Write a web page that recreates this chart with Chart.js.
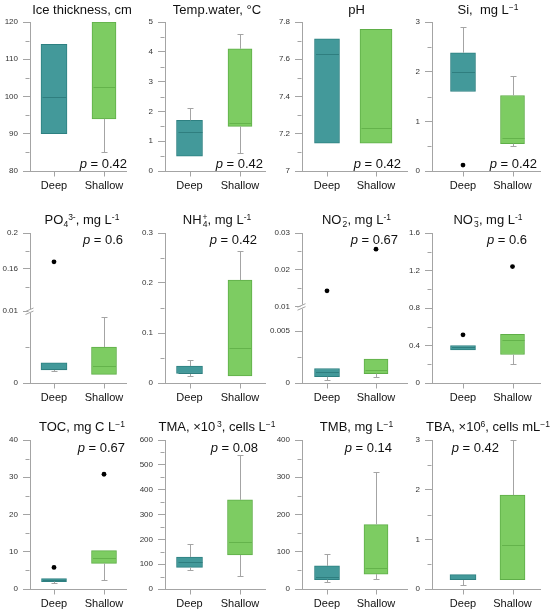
<!DOCTYPE html>
<html lang="en">
<head>
<meta charset="UTF-8">
<title>Deep vs Shallow</title>
<script src="https://cdn.jsdelivr.net/npm/chart.js"></script>
<style>
  html, body { margin: 0; padding: 0; background: #fff; }
  body { width: 550px; height: 613px; position: relative; overflow: hidden;
         font-family: "Liberation Sans", Arial, sans-serif; }
  .title { position: absolute; width: 180px; text-align: center; font-size: 13px;
           line-height: 14px; color: #111; white-space: nowrap; }
  .title sup { font-size: 8.5px; line-height: 0; vertical-align: 4px; }
  .title sub { font-size: 8.5px; line-height: 0; vertical-align: -3px; }
  .ss { display: inline-block; vertical-align: -3px; font-size: 8.5px; line-height: 7px; margin-left: 1px; }
  .ss > span { display: block; }
</style>
</head>
<body>
<script>
  // ---- data ----
  const groups = ['Deep', 'Shallow'];

  const titles = [
    'Ice thickness, cm',
    'Temp.water, °C',
    'pH',
    'Si,&nbsp; mg L<sup>−1</sup>',
    'PO<sub>4</sub><sup>3-</sup>, mg L<sup>-1</sup>',
    'NH<span class="ss"><span>+</span><span>4</span></span>, mg L<sup>-1</sup>',
    'NO<span class="ss"><span>−</span><span>2</span></span>, mg L<sup>-1</sup>',
    'NO<span class="ss"><span>−</span><span>3</span></span>, mg L<sup>-1</sup>',
    'TOC, mg C L<sup>−1</sup>',
    'TMA, ×10<sup>&thinsp;3</sup>, cells L<sup>−1</sup>',
    'TMB, mg L<sup>−1</sup>',
    'TBA, ×10<sup>6</sup>, cells mL<sup>−1</sup>'
  ];

  // [lower whisker, Q1, median, Q3, upper whisker]
  const deepStats = [
    [90, 90, 100, 114, 114],
    [0.5, 0.5, 1.3, 1.7, 2.1],
    [7.15, 7.15, 7.63, 7.71, 7.71],
    [1.6, 1.6, 2.0, 2.38, 2.9],
    [0.0017, 0.0018, 0.0019, 0.0028, 0.0028],
    [0.014, 0.019, 0.02, 0.034, 0.047],
    [0.0003, 0.0006, 0.0011, 0.0014, 0.0014],
    [0.353, 0.353, 0.38, 0.40, 0.40],
    [1.6, 2.0, 2.3, 2.8, 2.8],
    [75, 87, 107, 129, 180],
    [19, 25, 33, 62, 93],
    [0.09, 0.19, 0.21, 0.29, 0.29]
  ];
  const shallowStats = [
    [85, 94, 102.5, 120, 120],
    [0.6, 1.5, 1.6, 4.1, 4.6],
    [7.15, 7.15, 7.23, 7.76, 7.76],
    [0.51, 0.55, 0.67, 1.52, 1.92],
    [0.0012, 0.0012, 0.0024, 0.005, 0.0092],
    [0.014, 0.014, 0.07, 0.206, 0.264],
    [0.0006, 0.0009, 0.0013, 0.0023, 0.0023],
    [0.207, 0.304, 0.455, 0.52, 0.52],
    [2.5, 6.9, 8.3, 10.3, 10.3],
    [53, 137, 191, 359, 540],
    [27, 40, 56, 173, 315],
    [0.19, 0.19, 0.89, 1.89, 3.0]
  ];
  const deepOutliers = [[], [], [], [0.12], [0.168], [], [0.0143], [0.514], [5.8], [], [], []];
  const shallowOutliers = [[], [], [], [], [], [], [0.0256], [1.242], [30.8], [], [], []];

  const yTicks = [
    [80, 90, 100, 110, 120],
    [0, 1, 2, 3, 4, 5],
    [7, 7.2, 7.4, 7.6, 7.8],
    [0, 1, 2, 3],
    [0, 0.01, 0.16, 0.2],
    [0, 0.1, 0.2, 0.3],
    [0, 0.005, 0.01, 0.02, 0.03],
    [0, 0.4, 0.8, 1.2, 1.6],
    [0, 10, 20, 30, 40],
    [0, 100, 200, 300, 400, 500, 600],
    [0, 100, 200, 300, 400],
    [0, 1, 2, 3]
  ];
  const pValues = ['0.42', '0.42', '0.42', '0.42', '0.6', '0.42', '0.67', '0.6', '0.67', '0.08', '0.14', '0.42'];

  // broken y axes (PO4, NO2): values above "high" are squeezed in above "low"
  const yBreaks = [null, null, null, null,
    { low: 0.01, high: 0.1133, ratio: 0.125, minor: [0.005, 0.14, 0.18] },
    null,
    { low: 0.00735, high: 0.01, ratio: 0.355, minor: [0.0025, 0.015, 0.025] },
    null, null, null, null, null];

  // ---- layout ----
  const colLeft = [0, 137, 275, 412];
  const colWidth = [137, 138, 137, 138];
  const areaLeft = [30, 165, 302, 432];
  const areaRight = [126, 265, 407, 540];
  const deepX = [54, 189.5, 327, 463];
  const shallowX = [104, 240, 376, 512.5];
  const plotTop = [22, 233, 440];
  const plotBottom = [171, 383, 589];
  const titleY = [10, 220, 427];
  const pBaseline = [168, 244, 452];
  const pRight = [127, 263, 401, 537, 123, 257, 398, 527, 125, 258, 392, 499];
  const boxWidth = [[26, 24], [26, 24], [25, 32], [25, 24], [26, 25], [26, 24],
                    [25, 24], [25, 24], [25, 25], [26, 25], [25, 24], [26, 25]];

  const deepFill = '#43999a', deepEdge = '#2d8081', deepMed = '#2f7e7f';
  const shallowFill = '#7dcc62', shallowEdge = '#5fae48', shallowMed = '#64b34b';
  const grey = '#a4a4a4';

  Chart.defaults.font.family = '"Liberation Sans", Arial, sans-serif';
  Chart.defaults.animation = false;

  function makeFwd(b) {
    if (!b) return v => v;
    return v => (v <= b.low ? v : b.low + (v - b.high) * b.ratio);
  }

  const crisp = v => Math.round(v) + 0.5;

  const boxExtras = {
    id: 'boxExtras',
    afterDatasetsDraw(chart, args, o) {
      const { ctx, scales: { x, y } } = chart;
      [o.deep, o.shallow].forEach((s, gi) => {
        const cx = crisp(x.getPixelForValue(gi));
        const half = o.widths[gi] / 2;
        const px = s.map(v => y.getPixelForValue(o.fwd(v)));
        ctx.save();
        ctx.lineWidth = 1;
        ctx.strokeStyle = grey;
        ctx.beginPath();
        if (s[0] < s[1]) {
          ctx.moveTo(cx, px[1]); ctx.lineTo(cx, crisp(px[0]));
          ctx.moveTo(cx - 3, crisp(px[0])); ctx.lineTo(cx + 3, crisp(px[0]));
        }
        if (s[4] > s[3]) {
          ctx.moveTo(cx, px[3]); ctx.lineTo(cx, crisp(px[4]));
          ctx.moveTo(cx - 3, crisp(px[4])); ctx.lineTo(cx + 3, crisp(px[4]));
        }
        ctx.stroke();
        ctx.strokeStyle = gi === 0 ? deepMed : shallowMed;
        ctx.beginPath();
        ctx.moveTo(cx - half + 1, crisp(px[2]));
        ctx.lineTo(cx + half - 1, crisp(px[2]));
        ctx.stroke();
        ctx.restore();
      });
    },
    afterDraw(chart, args, o) {
      const { ctx, chartArea, scales: { x, y } } = chart;
      const ax = crisp(chartArea.left) - 1;
      const bx = crisp(chartArea.bottom);
      ctx.save();
      ctx.strokeStyle = grey;
      ctx.lineWidth = 1;
      ctx.beginPath();
      // x tick marks under each group
      [0, 1].forEach(gi => {
        const cx = crisp(x.getPixelForValue(gi));
        ctx.moveTo(cx, bx); ctx.lineTo(cx, bx + 5);
      });
      // minor y ticks
      o.minor.forEach(m => {
        const py = crisp(y.getPixelForValue(o.fwd(m)));
        ctx.moveTo(ax - 4, py); ctx.lineTo(ax, py);
      });
      ctx.stroke();
      // axis break mark
      if (o.brk) {
        const by = y.getPixelForValue(o.brk.low);
        ctx.fillStyle = '#fff';
        ctx.fillRect(ax - 1, by - 2, 3, 4);
        ctx.beginPath();
        ctx.moveTo(ax - 4, by + 0.5); ctx.lineTo(ax + 4, by - 3);
        ctx.moveTo(ax - 4, by + 3.5); ctx.lineTo(ax + 4, by);
        ctx.stroke();
      }
      // p label
      ctx.fillStyle = '#111';
      ctx.textBaseline = 'alphabetic';
      ctx.font = 'italic 13px "Liberation Sans", Arial, sans-serif';
      const wp = ctx.measureText('p').width;
      ctx.font = '13px "Liberation Sans", Arial, sans-serif';
      const rest = ' = ' + o.p;
      const wr = ctx.measureText(rest).width;
      const x0 = o.pX - wp - wr;
      ctx.fillText(rest, x0 + wp, o.pY);
      ctx.font = 'italic 13px "Liberation Sans", Arial, sans-serif';
      ctx.fillText('p', x0, o.pY);
      ctx.restore();
    }
  };

  for (let i = 0; i < 12; i++) {
    const r = Math.floor(i / 4), c = i % 4;
    const extra = c === 0 ? 0 : 24;          // room for wide tick labels
    const left = colLeft[c] - extra;
    const top = plotTop[r] - 10;
    const h = plotBottom[r] - plotTop[r] + 10 + 26;
    const w = colWidth[c] + extra;
    const fwd = makeFwd(yBreaks[i]);
    const ticks = yTicks[i];
    let minor = [];
    if (yBreaks[i]) minor = yBreaks[i].minor;
    else for (let k = 1; k < ticks.length; k++) minor.push((ticks[k - 1] + ticks[k]) / 2);

    const unit = shallowX[c] - deepX[c];
    const xMin = -(deepX[c] - areaLeft[c]) / unit;
    const xMax = 1 + (areaRight[c] - shallowX[c]) / unit;

    const canvas = document.createElement('canvas');
    canvas.width = w;
    canvas.height = h;
    canvas.style.cssText = `position:absolute;left:${left}px;top:${top}px;width:${w}px;height:${h}px`;
    document.body.appendChild(canvas);

    const t = document.createElement('div');
    t.className = 'title';
    const tc = (areaLeft[c] + areaRight[c]) / 2 + (c === 0 ? 4 : 2);
    t.style.left = (tc - 90) + 'px';
    t.style.top = (titleY[r] - 7) + 'px';
    t.innerHTML = titles[i];
    document.body.appendChild(t);

    const d = deepStats[i], s = shallowStats[i];

    new Chart(canvas, {
      type: 'bar',
      data: {
        datasets: [
          {
            data: [{ x: 0, y: [fwd(d[1]), fwd(d[3])] }],
            backgroundColor: deepFill, borderColor: deepEdge, borderWidth: 1,
            borderSkipped: false, barThickness: boxWidth[i][0], grouped: false
          },
          {
            data: [{ x: 1, y: [fwd(s[1]), fwd(s[3])] }],
            backgroundColor: shallowFill, borderColor: shallowEdge, borderWidth: 1,
            borderSkipped: false, barThickness: boxWidth[i][1], grouped: false
          },
          {
            type: 'scatter',
            data: deepOutliers[i].map(v => ({ x: 0, y: fwd(v) }))
              .concat(shallowOutliers[i].map(v => ({ x: 1, y: fwd(v) }))),
            pointRadius: 2.4, pointBackgroundColor: '#000', pointBorderWidth: 0
          }
        ]
      },
      options: {
        responsive: false,
        events: [],
        layout: { padding: { left: 0, top: 10, bottom: 0, right: colLeft[c] + colWidth[c] - areaRight[c] } },
        plugins: {
          legend: { display: false },
          tooltip: { enabled: false },
          boxExtras: {
            deep: d, shallow: s, fwd: fwd, widths: boxWidth[i], minor: minor,
            brk: yBreaks[i], p: pValues[i],
            pX: pRight[i] - left, pY: pBaseline[r] - top
          }
        },
        scales: {
          x: {
            type: 'linear', min: xMin, max: xMax, offset: false,
            afterBuildTicks: sc => { sc.ticks = [{ value: 0 }, { value: 1 }]; },
            afterFit: sc => { sc.height = 26; },
            ticks: { callback: (v, k) => groups[k], color: '#111', font: { size: 11 }, padding: 8, autoSkip: false, maxRotation: 0 },
            grid: { display: false, drawTicks: false, tickLength: 0 },
            border: { color: grey }
          },
          y: {
            type: 'linear', min: fwd(ticks[0]), max: fwd(ticks[ticks.length - 1]),
            afterBuildTicks: sc => { sc.ticks = ticks.map(v => ({ value: fwd(v) })); },
            afterFit: sc => { sc.width = areaLeft[c] - left; },
            ticks: { callback: (v, k) => String(ticks[k]), color: '#333', font: { size: 8 }, padding: 5, autoSkip: false },
            grid: { drawOnChartArea: false, tickLength: 7, color: grey, tickColor: grey },
            border: { color: grey }
          }
        }
      },
      plugins: [boxExtras]
    });
  }
</script>
</body>
</html>
